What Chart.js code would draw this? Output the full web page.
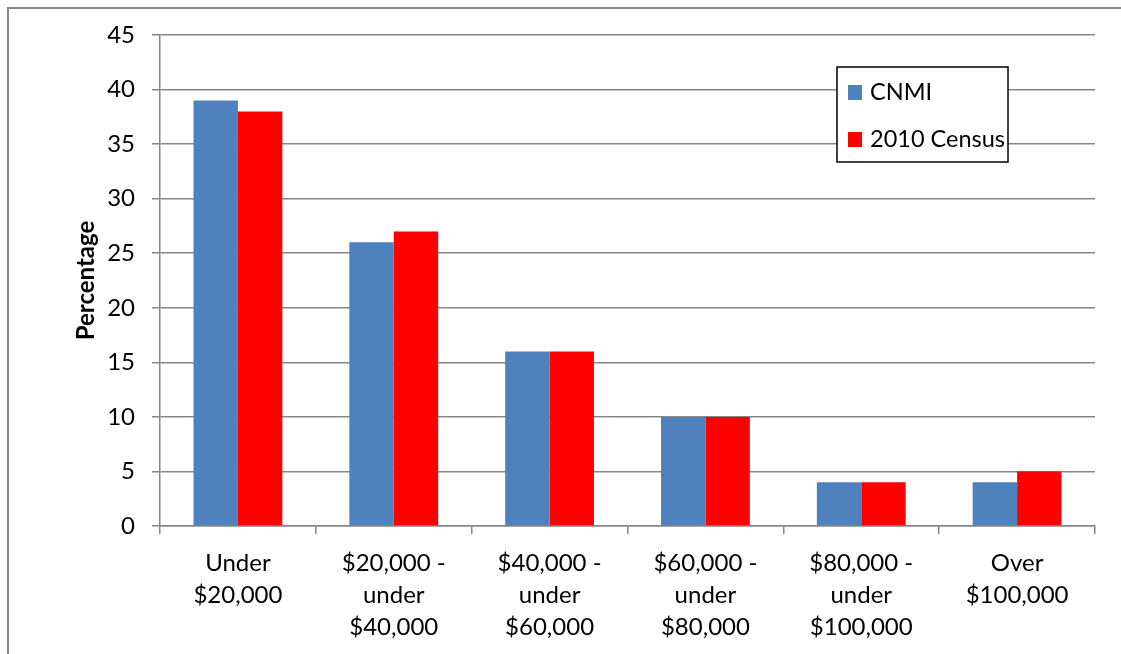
<!DOCTYPE html>
<html>
<head>
<meta charset="utf-8">
<script src="https://cdn.jsdelivr.net/npm/chart.js@4/dist/chart.umd.min.js"></script>
<style>
  html, body { margin: 0; padding: 0; background: #fff; overflow: hidden; }
  #wrap { width: 1121px; height: 654px; }
</style>
</head>
<body>
<div id="wrap"><canvas id="incomeChart" width="1121" height="654"></canvas></div>
<script>
// categorías (ingreso del hogar) y series
const categories = [
  ["Under", "$20,000"],
  ["$20,000 -", "under", "$40,000"],
  ["$40,000 -", "under", "$60,000"],
  ["$60,000 -", "under", "$80,000"],
  ["$80,000 -", "under", "$100,000"],
  ["Over", "$100,000"]
];
const cnmiValues = [39, 26, 16, 10, 4, 4];
const censusValues = [38, 27, 16, 10, 4, 5];
const seriesNames = ["CNMI", "2010 Census"];
const yTicks = [0, 5, 10, 15, 20, 25, 30, 35, 40, 45];

const FONT = "Lato, 'Noto Sans', sans-serif";
const GRID = "#868686";

// marco gris exterior
const framePlugin = {
  id: "frame",
  beforeDraw(chart) {
    const c = chart.ctx;
    c.save();
    c.fillStyle = "#fff";
    c.fillRect(0, 0, chart.width, chart.height);
    c.strokeStyle = GRID;
    c.lineWidth = 2;
    c.strokeRect(8, 8, chart.width + 40, chart.height + 40);
    c.restore();
  }
};

// leyenda con recuadro dentro del área del gráfico
const boxLegend = {
  id: "boxLegend",
  afterDraw(chart) {
    const c = chart.ctx;
    const x = 837, y = 67, w = 171, h = 95;
    c.save();
    c.fillStyle = "#fff";
    c.fillRect(x, y, w, h);
    c.strokeStyle = "#000";
    c.lineWidth = 1.5;
    c.strokeRect(x, y, w, h);
    c.font = "23.5px " + FONT;
    c.textBaseline = "middle";
    chart.data.datasets.forEach((ds, i) => {
      const cy = y + 25 + i * 47;
      c.fillStyle = ds.backgroundColor;
      c.fillRect(x + 11, cy - 7, 14, 15);
      c.fillStyle = "#000";
      c.fillText(ds.label, x + 33, cy);
    });
    c.restore();
  }
};

new Chart(document.getElementById("incomeChart"), {
  type: "bar",
  data: {
    labels: categories,
    datasets: [
      { label: seriesNames[0], data: cnmiValues, backgroundColor: "#4F81BD" },
      { label: seriesNames[1], data: censusValues, backgroundColor: "#FF0000" }
    ]
  },
  options: {
    responsive: false,
    animation: false,
    layout: { padding: { left: 0, top: 35, right: 26, bottom: 0 } },
    plugins: { legend: { display: false }, tooltip: { enabled: false } },
    datasets: { bar: { categoryPercentage: 0.57, barPercentage: 1 } },
    scales: {
      x: {
        grid: { display: true, drawOnChartArea: false, offset: true, color: GRID, tickLength: 8, lineWidth: 1.5 },
        border: { display: true, color: GRID, width: 1.5 },
        ticks: { color: "#000", font: { family: FONT, size: 24, lineHeight: 1.333 }, padding: 13, maxRotation: 0, autoSkip: false },
        afterFit(scale) { scale.height = 128; }
      },
      y: {
        min: 0,
        max: 45,
        afterBuildTicks(scale) { scale.ticks = yTicks.map(v => ({ value: v })); },
        grid: { color: GRID, tickLength: 8, lineWidth: 1.5 },
        border: { display: true, color: GRID, width: 1.5 },
        ticks: { color: "#000", font: { family: FONT, size: 24 }, padding: 17 },
        title: {
          display: true,
          text: "Percentage",
          color: "#000",
          font: { family: FONT, size: 24, weight: "bold" },
          padding: { top: 72, bottom: 0 }
        },
        afterFit(scale) { scale.width = 160; }
      }
    }
  },
  plugins: [framePlugin, boxLegend]
});
</script>
</body>
</html>
